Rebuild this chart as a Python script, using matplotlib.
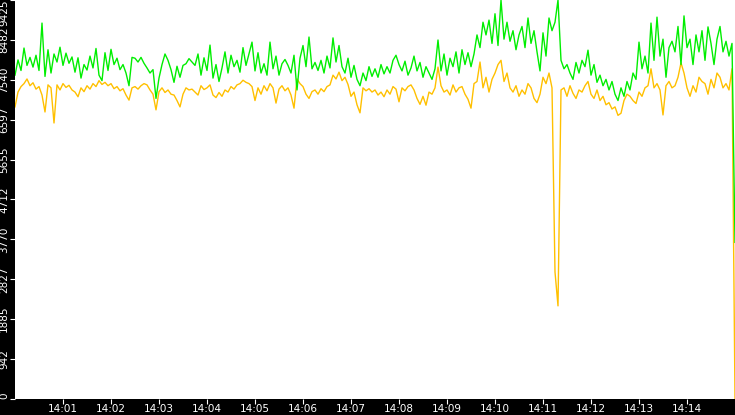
import numpy as np
import matplotlib
matplotlib.use("Agg")
import matplotlib.pyplot as plt

# samples every 3.75 s from 14:00:00 to 14:15:00
SAMPLE_STEP = 3.75

green_vals = [
    7650, 8010, 7760, 8290, 7880, 8070, 7840, 8120, 7760, 8880,
    7620, 8250, 7700, 8150, 7960, 8310, 7880, 8170, 7930, 8080,
    7720, 8060, 7580, 7900, 7770, 8100, 7820, 8280, 7650, 7520,
    8180, 7760, 8260, 7900, 8050, 7780, 7900, 7700, 7400, 8070,
    8050, 7960, 8070, 7930, 7820, 7700, 7780, 7100, 7580, 7900,
    8150, 8000, 7780, 7480, 7860, 7600, 7880, 7920, 8040, 7960,
    7880, 8150, 7650, 8060, 7760, 8360, 7580, 7900, 7500, 7820,
    8200, 7700, 8120, 7850, 8000, 7720, 8300, 7880, 8150, 8430,
    7750, 8180, 7700, 7920, 7650, 8430, 7800, 8100, 7650, 7920,
    8020, 7880, 7700, 8120, 7300, 8050, 8350, 7850, 8550, 7800,
    7950, 7760, 8000, 7700, 8100, 7820, 8530, 7960, 8350, 7850,
    7700, 8050, 7600, 7880, 7550, 7400, 7700, 7520, 7850, 7620,
    7800, 7600, 7900, 7680, 7850, 7700, 8000, 8120, 7900, 7750,
    7980, 7650, 7820, 8100, 7750, 7950, 7600, 7850, 7700, 7550,
    7800, 8480, 7750, 8150, 7650, 8050, 7850, 8200, 7700, 8250,
    7900, 8180, 7850, 8150, 8600, 8300, 8900, 8600, 8950, 8400,
    9100, 8350, 9425, 8500, 8900, 8450, 8700, 8250, 8600, 8800,
    8300, 9000, 8400, 8700, 8200, 7750, 8650, 8100, 9000, 8700,
    8900, 9425, 8000, 7800, 7900, 7700, 7550, 7950, 7700, 8000,
    7850, 8240, 7650, 7900, 7480, 7650, 7400, 7550, 7300, 7500,
    7200, 7050, 7350, 7150, 7500, 7300, 7700, 7550, 8430, 7800,
    8100, 7700, 8880, 8000, 9020, 8100, 8500, 7600, 8300, 8450,
    8200, 8800, 7900, 9050, 8300, 8500, 7900, 8600, 8200, 8700,
    8000, 8790, 8400, 7900, 8500, 8800, 8200, 8450, 8100, 8400,
    3700,
]

orange_vals = [
    6900, 7250, 7380, 7450, 7560, 7400, 7470, 7320, 7380, 7180,
    6780, 7420, 7350, 6520, 7420, 7300, 7450, 7360, 7410, 7300,
    7250, 7140, 7350, 7260, 7400, 7320, 7450, 7380, 7520, 7430,
    7480, 7400, 7450, 7330, 7380, 7280, 7330, 7180, 7060, 7350,
    7380, 7320, 7400, 7450, 7420, 7300, 7200, 6830, 7260, 7350,
    7240, 7300, 7200, 7180, 7050, 6900, 7200, 7350, 7300, 7320,
    7250, 7180, 7400, 7310, 7350, 7420, 7180, 7120, 7240, 7150,
    7300, 7250, 7380, 7320, 7420, 7450, 7530, 7480, 7450, 7380,
    7050, 7350, 7200, 7400, 7280, 7450, 7350, 6990, 7320, 7400,
    7280, 7350, 7180, 6870, 7560, 7450, 7380, 7200, 7100, 7260,
    7300, 7200, 7330, 7260, 7380, 7420, 7650, 7560, 7720, 7520,
    7600, 7430, 7150, 7250, 6950, 6760, 7350, 7280, 7330, 7250,
    7300, 7180, 7250, 7140, 7300, 7200, 7380, 7320, 7020, 7350,
    7280, 7380, 7420, 7300, 7100, 6960, 7150, 6940, 7250, 7200,
    7350, 7840, 7400, 7250, 7300, 7180, 7420, 7250, 7350, 7380,
    7200, 7080, 6870, 7450, 7500, 7960, 7350, 7600, 7250, 7550,
    7700, 7900, 8000, 7500, 7700, 7350, 7250, 7400, 7150, 7300,
    7200, 7450, 7350, 7100, 7000, 7200, 7600, 7450, 7700, 7350,
    3000, 2200, 7300, 7350, 7150, 7400, 7220, 7100, 7300, 7250,
    7400, 7500, 7200, 7100, 7300, 7050, 7150, 6950, 7000, 6850,
    6900, 6700, 6750, 7050, 7200, 7150, 7050, 6980, 7250, 7150,
    7350, 7400, 7800, 7350, 7450, 7300, 6710, 7400, 7500, 7350,
    7400, 7600, 7940, 7700, 7350, 7150, 7400, 7250, 7600, 7500,
    7450, 7200, 7550, 7350, 7700, 7600, 7350, 7450, 7300, 7800,
    0,
]

y_ticks = [0, 942.5, 1885, 2827.5, 3770, 4712.5, 5655, 6597.5, 7540, 8482.5, 9425]
y_labels = ["0", "942", "1885", "2827", "3770", "4712", "5655", "6597", "7540", "8482", "9425"]
x_ticks = [60, 120, 180, 240, 300, 360, 420, 480, 540, 600, 660, 720, 780, 840]
x_labels = ["14:01", "14:02", "14:03", "14:04", "14:05", "14:06", "14:07",
            "14:08", "14:09", "14:10", "14:11", "14:12", "14:13", "14:14"]

t = np.arange(len(green_vals)) * SAMPLE_STEP

fig = plt.figure(figsize=(7.35, 4.15), dpi=100, facecolor="black")
ax = fig.add_axes([15 / 735, 16 / 415, 720 / 735, 399 / 415])
ax.set_facecolor("white")

ax.plot(t, orange_vals, color="#ffc000", linewidth=1.0)
ax.plot(t, green_vals, color="#00ee00", linewidth=1.0)

ax.set_xlim(0, 900)
ax.set_ylim(0, 9425)
for s in ax.spines.values():
    s.set_visible(False)

ax.set_xticks(x_ticks)
ax.set_xticklabels(x_labels)
ax.set_yticks(y_ticks)
ax.set_yticklabels(y_labels, rotation=90, va="center")
ax.tick_params(axis="both", colors="white", labelcolor="white", labelsize=7.5,
               length=3.6, width=0.8, direction="out")
ax.tick_params(axis="x", pad=0.3)
ax.tick_params(axis="y", pad=0.6)

labels = ax.get_yticklabels()
labels[0].set_va("bottom")
labels[-1].set_va("top")

fig.savefig("out.png", dpi=100, facecolor="black")
